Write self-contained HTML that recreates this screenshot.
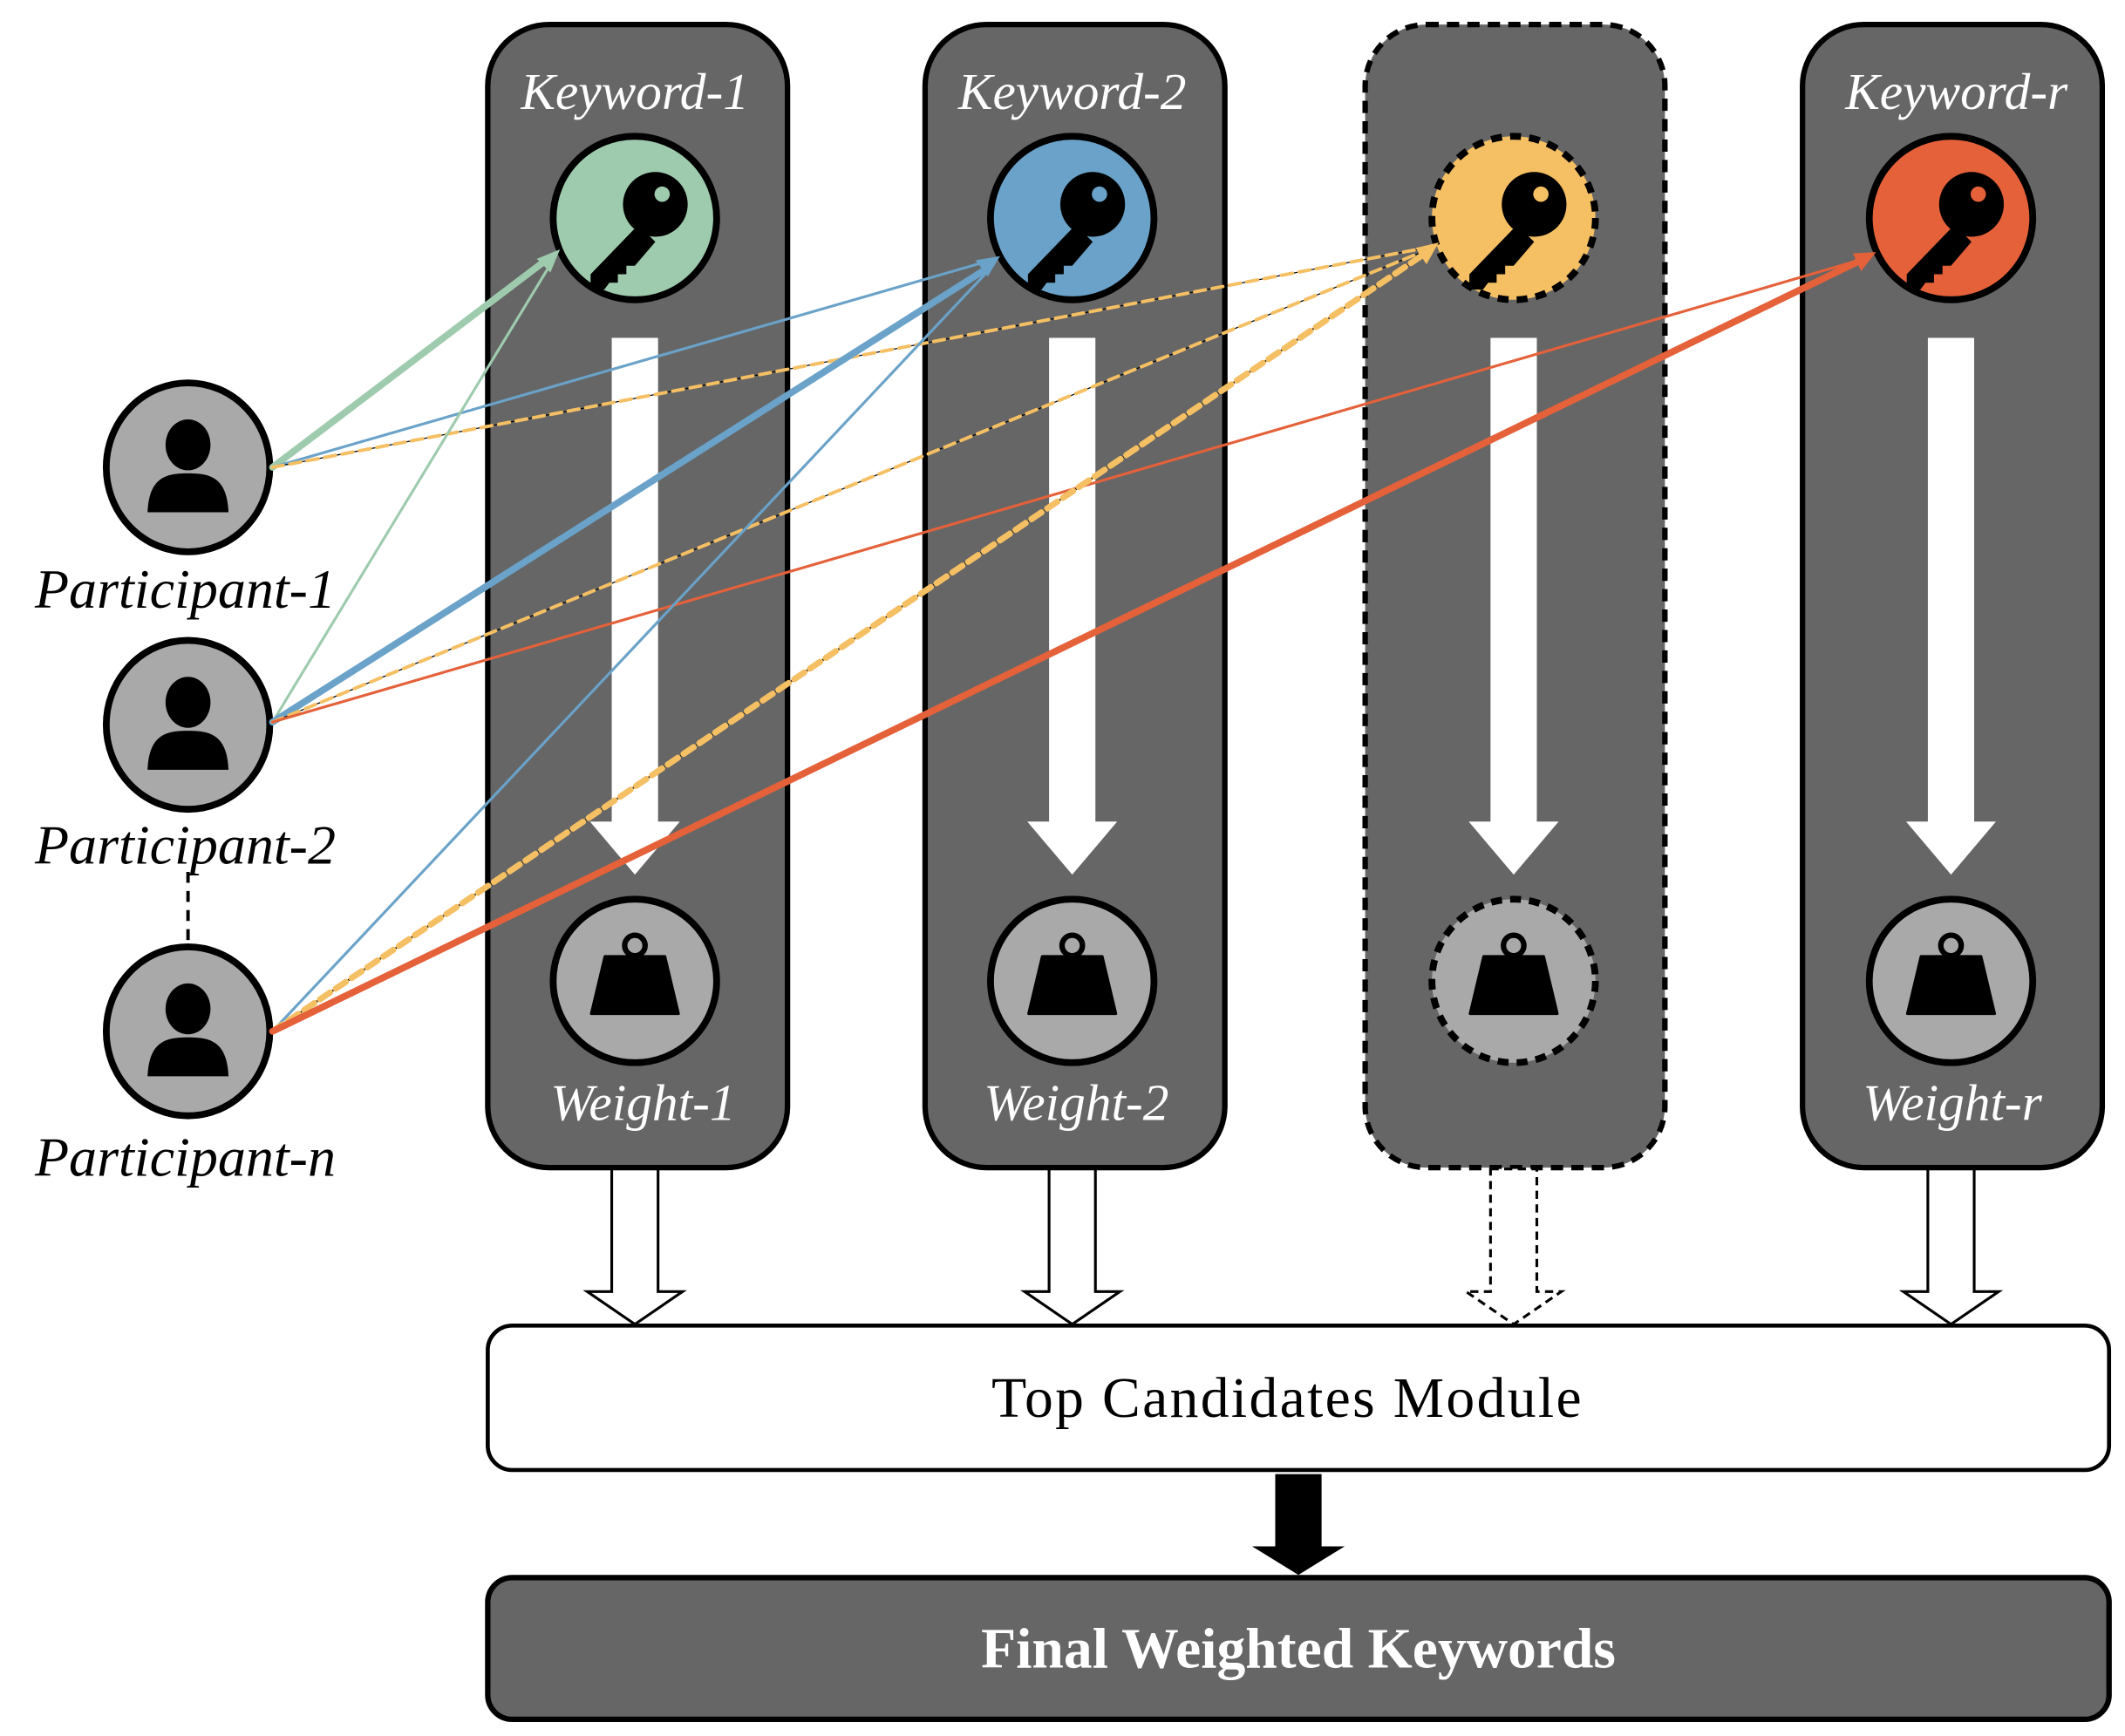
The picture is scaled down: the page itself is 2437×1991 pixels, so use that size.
<!DOCTYPE html>
<html><head><meta charset="utf-8"><style>html,body{margin:0;padding:0;background:#fff}svg{display:block}</style></head>
<body>
<svg width="2437" height="1991" viewBox="0 0 1559.7 1274.2" xmlns="http://www.w3.org/2000/svg">
<defs>
<g id="key">
<g transform="scale(1.25)">
<circle cx="12" cy="-8" r="19" fill="#000"/>
<circle cx="16" cy="-14" r="4.5" fill="currentColor"/>
<path d="M2,4 L-26,33 L-26,42 L-18,42 L-15,38 L-10,38 L-10,33 L-5,33 L-5,28 L0,28 L12,14 Z" fill="#000"/>
</g>
</g>
<g id="wt">
<circle cx="0" cy="-28" r="7.5" fill="none" stroke="#000" stroke-width="4"/>
<path d="M-22,-20 L22,-20 L32,22 L-32,22 Z" fill="#000" stroke="#000" stroke-width="2" stroke-linejoin="round"/>
</g>
<g id="person">
<g transform="scale(1.1)">
<ellipse cx="0" cy="-15" rx="15" ry="17" fill="#000"/>
<path d="M-27,30 C-26,6 -14,4 0,4 C14,4 26,6 27,30 Z" fill="#000"/>
</g>
</g>
<g id="darrow">
<path d="M-17,0 L17,0 L17,355 L33,355 L0,394 L-33,355 L-17,355 Z" fill="#fff"/>
</g>
<g id="harrow">
<path d="M-17,0 L17,0 L17,90 L35,90 L0,114 L-35,90 L-17,90 Z" fill="#fff" stroke="#000" stroke-width="2"/>
</g>
</defs>

<rect x="358" y="18" width="220" height="839" rx="45" fill="#666" stroke="#000" stroke-width="4"/>
<rect x="679" y="18" width="220" height="839" rx="45" fill="#666" stroke="#000" stroke-width="4"/>
<rect x="1002" y="18" width="220" height="839" rx="45" fill="#666" stroke="#000" stroke-width="4" stroke-dasharray="9,6"/>
<rect x="1323" y="18" width="220" height="839" rx="45" fill="#666" stroke="#000" stroke-width="4"/>

<g font-family="Liberation Serif, serif" font-style="italic" font-size="38" fill="#fff" text-anchor="middle">
<text x="466" y="80">Keyword-1</text>
<text x="787" y="80">Keyword-2</text>
<text x="1436" y="80">Keyword-r</text>
<text x="472" y="822">Weight-1</text>
<text x="790" y="822">Weight-2</text>
<text x="1433" y="822">Weight-r</text>
</g>

<use href="#darrow" x="466" y="248"/>
<use href="#darrow" x="787" y="248"/>
<use href="#darrow" x="1111" y="248"/>
<use href="#darrow" x="1432" y="248"/>

<circle cx="466" cy="160" r="60" fill="#9ecbae" stroke="#000" stroke-width="5"/>
<use href="#key" x="466" y="160" color="#9ecbae"/>
<circle cx="787" cy="160" r="60" fill="#6aa2c9" stroke="#000" stroke-width="5"/>
<use href="#key" x="787" y="160" color="#6aa2c9"/>
<circle cx="1111" cy="160" r="60" fill="#f5bf63" stroke="#000" stroke-width="5" stroke-dasharray="8,6"/>
<use href="#key" x="1111" y="160" color="#f5bf63"/>
<circle cx="1432" cy="160" r="60" fill="#e4613a" stroke="#000" stroke-width="5"/>
<use href="#key" x="1432" y="160" color="#e4613a"/>

<circle cx="466" cy="720" r="60" fill="#a9a9a9" stroke="#000" stroke-width="5"/>
<use href="#wt" x="466" y="722"/>
<circle cx="787" cy="720" r="60" fill="#a9a9a9" stroke="#000" stroke-width="5"/>
<use href="#wt" x="787" y="722"/>
<circle cx="1111" cy="720" r="60" fill="#a9a9a9" stroke="#000" stroke-width="5" stroke-dasharray="8,6"/>
<use href="#wt" x="1111" y="722"/>
<circle cx="1432" cy="720" r="60" fill="#a9a9a9" stroke="#000" stroke-width="5"/>
<use href="#wt" x="1432" y="722"/>

<line x1="138" y1="640" x2="138" y2="695" stroke="#000" stroke-width="2.5" stroke-dasharray="8,6"/>
<ellipse cx="138" cy="343" rx="60" ry="62" fill="#a9a9a9" stroke="#000" stroke-width="5"/>
<use href="#person" x="138" y="343"/>
<ellipse cx="138" cy="532" rx="60" ry="62" fill="#a9a9a9" stroke="#000" stroke-width="5"/>
<use href="#person" x="138" y="532"/>
<ellipse cx="138" cy="757" rx="60" ry="62" fill="#a9a9a9" stroke="#000" stroke-width="5"/>
<use href="#person" x="138" y="757"/>
<g font-family="Liberation Serif, serif" font-style="italic" font-size="41" fill="#000" text-anchor="middle">
<text x="136" y="446">Participant-1</text>
<text x="136" y="634">Participant-2</text>
<text x="136" y="863">Participant-n</text>
</g>

<g fill="none" stroke-linecap="round">
<line x1="200" y1="343" x2="402" y2="190" stroke="#9ecbae" stroke-width="5"/>
<line x1="200" y1="343" x2="724" y2="192" stroke="#6aa2c9" stroke-width="2"/>
<line x1="200" y1="343" x2="1046" y2="182" stroke="#000" stroke-width="0.8"/>
<line x1="200" y1="343" x2="1046" y2="182" stroke="#f5bf63" stroke-width="2.5" stroke-dasharray="8,5"/>
<line x1="200" y1="530" x2="404" y2="194" stroke="#9ecbae" stroke-width="2"/>
<line x1="200" y1="530" x2="726" y2="196" stroke="#6aa2c9" stroke-width="5"/>
<line x1="200" y1="530" x2="1046" y2="184" stroke="#000" stroke-width="0.8"/>
<line x1="200" y1="530" x2="1046" y2="184" stroke="#f5bf63" stroke-width="2.5" stroke-dasharray="8,5"/>
<line x1="200" y1="530" x2="1368" y2="190" stroke="#e4613a" stroke-width="2"/>
<line x1="200" y1="757" x2="726" y2="198" stroke="#6aa2c9" stroke-width="2"/>
<line x1="200" y1="757" x2="1046" y2="186" stroke="#000" stroke-width="1.5"/>
<line x1="200" y1="757" x2="1046" y2="186" stroke="#f5bf63" stroke-width="4.5" stroke-dasharray="9,5"/>
<line x1="200" y1="757" x2="1368" y2="190" stroke="#e4613a" stroke-width="5"/>
</g>
<polygon points="411,183 394,190 404,200" fill="#9ecbae"/>
<polygon points="734,188 716,191 725,203" fill="#6aa2c9"/>
<polygon points="1056,178 1039,182 1047,194" fill="#f5bf63"/>
<polygon points="1377,185 1360,186 1366,199" fill="#e4613a"/>

<use href="#harrow" x="466" y="858"/>
<use href="#harrow" x="787" y="858"/>
<path d="M1094,858 L1128,858 L1128,948 L1146,948 L1111,972 L1076,948 L1094,948 Z" fill="#fff" stroke="#000" stroke-width="2" stroke-dasharray="6,4"/>
<use href="#harrow" x="1432" y="858"/>

<rect x="358" y="973" width="1190" height="106" rx="18" fill="#fff" stroke="#000" stroke-width="3"/>
<text x="945" y="1040" font-family="Liberation Serif, serif" font-size="42" letter-spacing="1.5" text-anchor="middle" fill="#000">Top Candidates Module</text>

<path d="M936,1082 L970,1082 L970,1135 L987,1135 L953,1156 L919,1135 L936,1135 Z" fill="#000"/>

<rect x="358" y="1158" width="1190" height="104" rx="18" fill="#666" stroke="#000" stroke-width="4"/>
<text x="953" y="1224" font-family="Liberation Serif, serif" font-weight="bold" font-size="42" text-anchor="middle" fill="#fff">Final Weighted Keywords</text>
</svg>
</body></html>
